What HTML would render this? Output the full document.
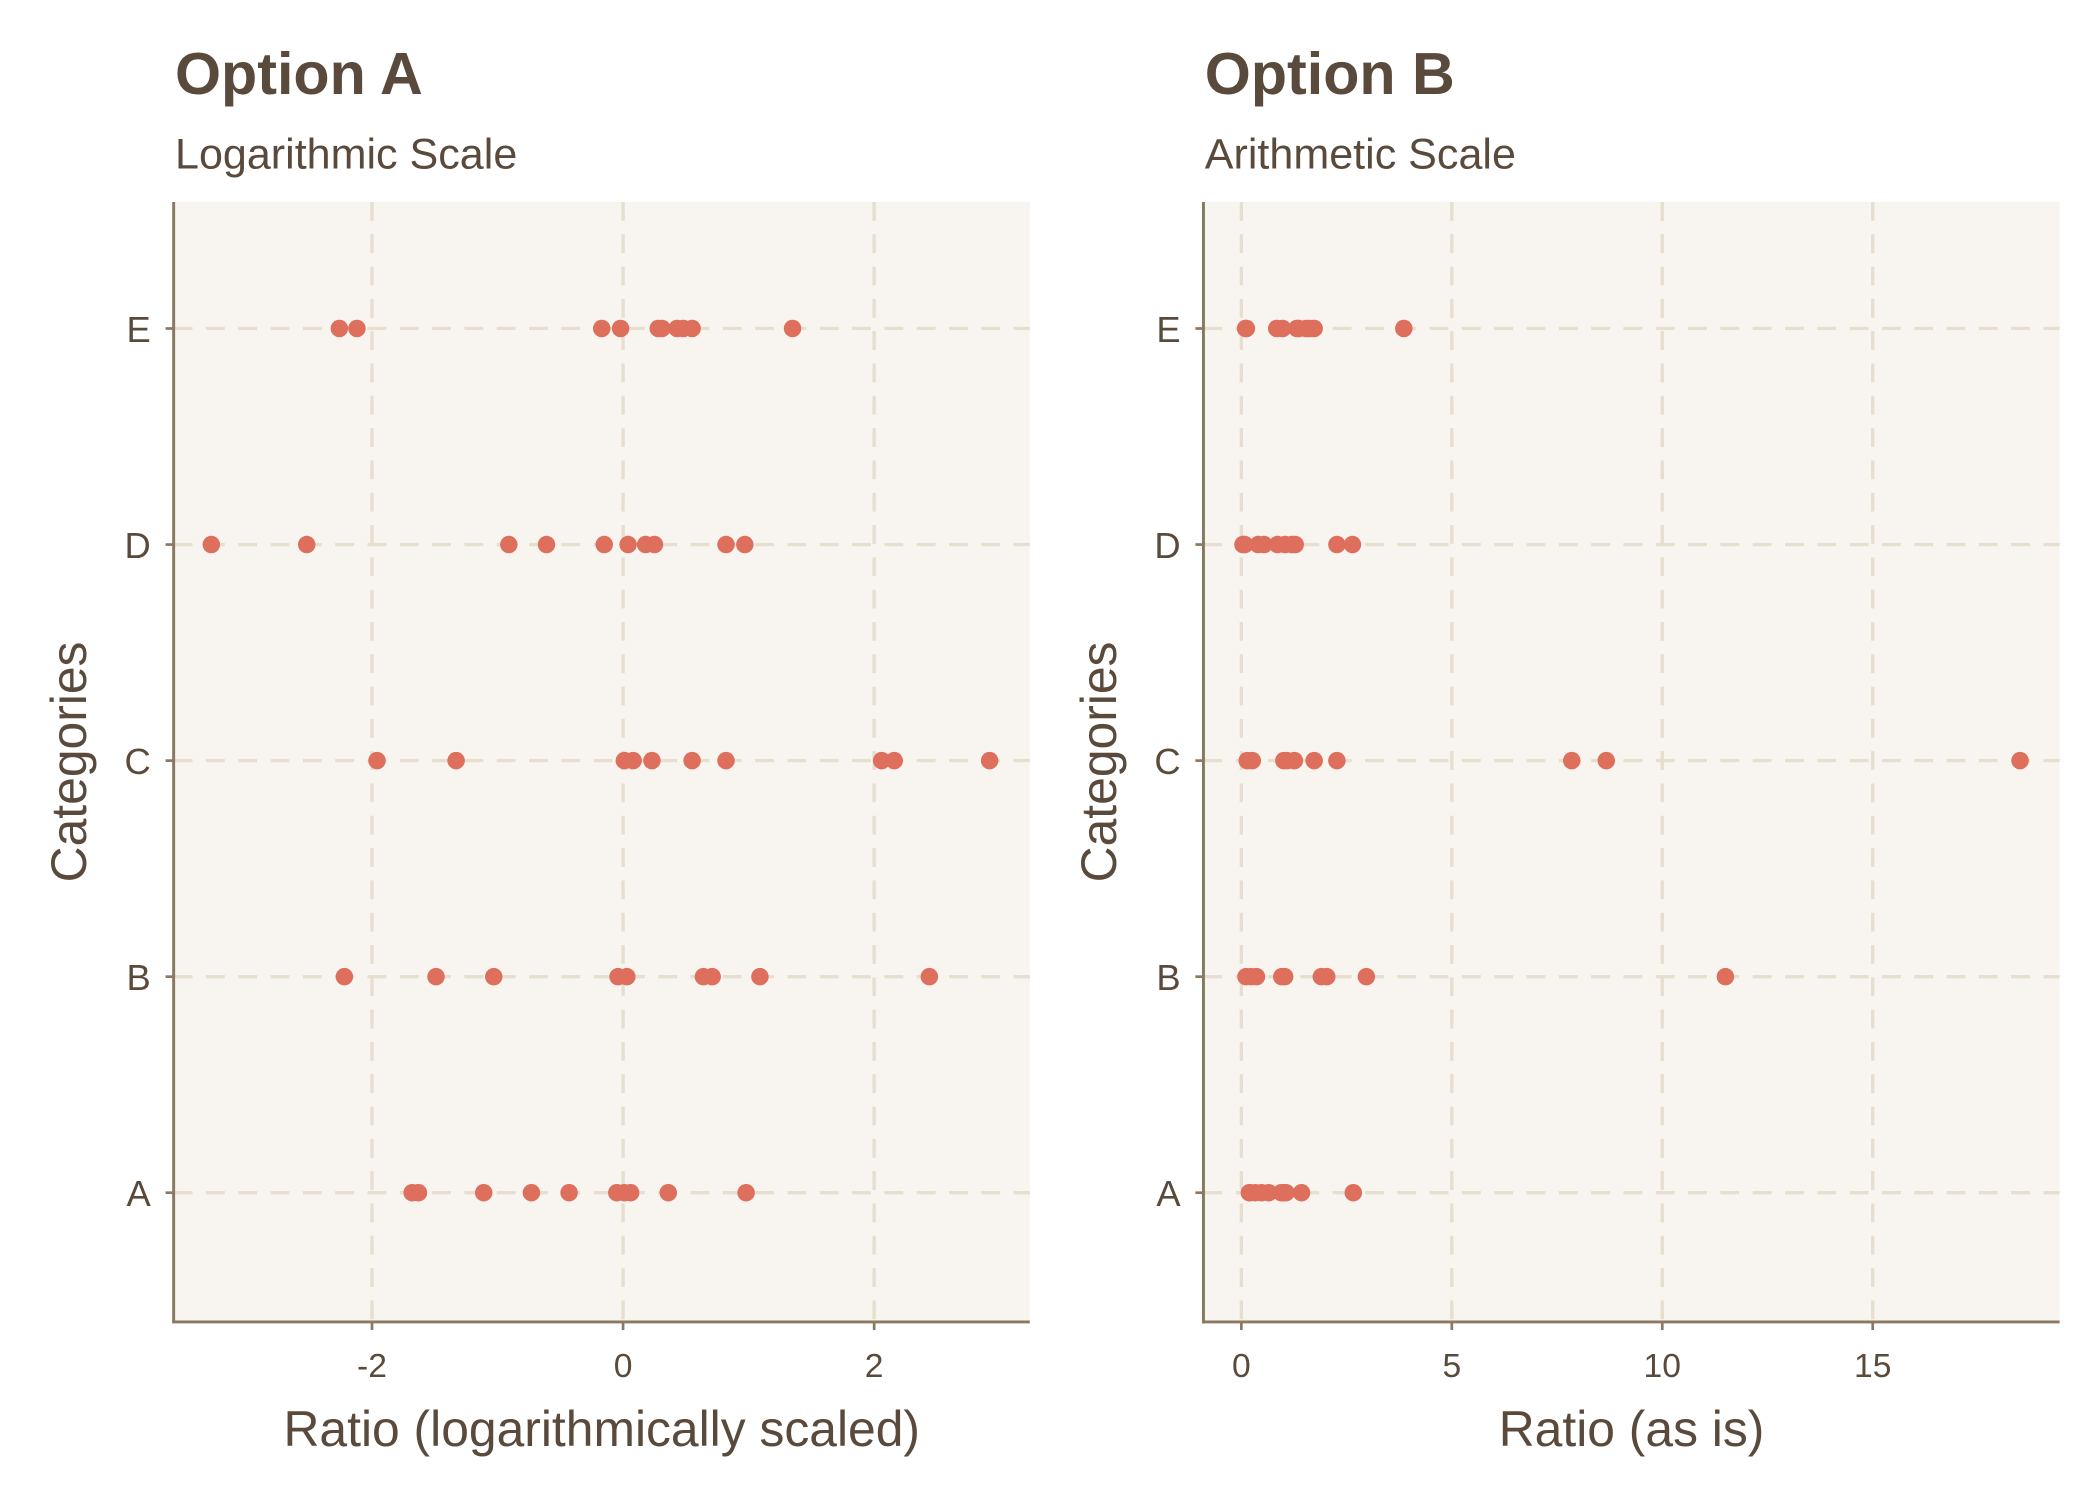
<!DOCTYPE html>
<html><head><meta charset="utf-8"><style>
html,body{margin:0;padding:0;background:#fff;}
svg{display:block;font-family:"Liberation Sans",sans-serif;}
</style></head><body>
<svg id="chart" width="2100" height="1499" viewBox="0 0 1560 1113.5" xmlns="http://www.w3.org/2000/svg">
<rect x="0" y="0" width="1560" height="1113.5" fill="#ffffff"/>
<text x="130" y="70" font-size="44" font-weight="bold" fill="#5a4a3c">Option A</text>
<text x="130" y="125" font-size="32" fill="#5a4a3c">Logarithmic Scale</text>
<text x="895" y="70" font-size="44" font-weight="bold" fill="#5a4a3c">Option B</text>
<text x="895" y="125" font-size="32" fill="#5a4a3c">Arithmetic Scale</text>
<g id="panels"></g>
</svg>
<script>
const categories = ["A","B","C","D","E"];
// Option A: log-scaled ratios
const logA = [-1.68,-1.63,-1.11,-0.73,-0.43,-0.05,0.01,0.06,0.36,0.98];
const logB = [-2.22,-1.49,-1.03,-0.04,0.03,0.64,0.71,1.09,2.44];
const logC = [-1.96,-1.33,0.01,0.08,0.23,0.55,0.82,2.06,2.16,2.92];
const logD = [-3.28,-2.52,-0.91,-0.61,-0.15,0.04,0.18,0.25,0.82,0.97];
const logE = [-2.26,-2.12,-0.17,-0.02,0.28,0.31,0.43,0.48,0.55,1.35];
// Option B: raw ratios
const rawA = [0.19,0.20,0.33,0.48,0.65,0.95,1.01,1.06,1.43,2.66];
const rawB = [0.11,0.23,0.36,0.96,1.03,1.90,2.03,2.97,11.5];
const rawC = [0.14,0.26,1.01,1.08,1.26,1.73,2.27,7.85,8.67,18.5];
const rawD = [0.038,0.080,0.40,0.54,0.86,1.04,1.20,1.28,2.27,2.64];
const rawE = [0.10,0.12,0.84,0.98,1.32,1.36,1.54,1.62,1.73,3.86];
const ticksLog = [-2,0,2];
const tickLabelsLog = ["-2","0","2"];
const ticksRaw = [0,5,10,15];
const tickLabelsRaw = ["0","5","10","15"];

const NS="http://www.w3.org/2000/svg";
const root=document.getElementById('panels');
function mk(tag,attrs,parent){const e=document.createElementNS(NS,tag);for(const k in attrs)e.setAttribute(k,attrs[k]);(parent||root).appendChild(e);return e;}

function panel(cfg){
  const g=mk('g',{});
  
  
  const L=cfg.left,R=cfg.left+636,T=150,B=982;
  const xs=v=>L+(v-cfg.dmin)/(cfg.dmax-cfg.dmin)*(R-L);
  const ys=i=>886-i*160.5;
  const bg=mk('rect',{x:L,y:T,width:R-L,height:B-T,fill:'#f8f5f0'},g);
  
  
  cfg.ticks.forEach((t,i)=>{
    const x=xs(t);
    const gl=mk('line',{x1:x,x2:x,y1:T,y2:B,stroke:'#e6dfcf','stroke-width':2.5,'stroke-dasharray':'14 10'},g);
    
    
    mk('line',{x1:x,x2:x,y1:B,y2:B+6,stroke:'#8b7860','stroke-width':2},g);
    const tl=mk('text',{x:x,y:1023,'font-size':25,'text-anchor':'middle',fill:'#5a4a3c'},g);
    tl.textContent=cfg.labels[i];
    
    
  });
  categories.forEach((c,i)=>{
    const y=ys(i);
    const gl=mk('line',{x1:L,x2:R,y1:y,y2:y,stroke:'#e6dfcf','stroke-width':2.5,'stroke-dasharray':'14 10'},g);
    
    
    mk('line',{x1:L-6,x2:L,y1:y,y2:y,stroke:'#8b7860','stroke-width':2},g);
    const tl=mk('text',{x:L-17,y:y+10,'font-size':27,'text-anchor':'end',fill:'#5a4a3c'},g);
    tl.textContent=c;
    
    
  });
  cfg.series.forEach((arr,i)=>{
    arr.forEach(v=>{
      const d=mk('circle',{cx:xs(v),cy:ys(i),r:6.5,fill:'#dd6f5c'},g);
      
      
    });
  });
  const ya=mk('line',{x1:L,x2:L,y1:T,y2:B+1,stroke:'#8b7860','stroke-width':2.2},g);
  
  
  const xa=mk('line',{x1:L-1,x2:R,y1:B,y2:B,stroke:'#8b7860','stroke-width':2.2},g);
  
  
  const xt=mk('text',{x:(L+R)/2,y:1074,'font-size':37,'text-anchor':'middle',fill:'#5a4a3c'},g);
  xt.textContent=cfg.xtitle;
  
  
  const yt=mk('text',{x:0,y:0,'font-size':37,'text-anchor':'middle',fill:'#5a4a3c',transform:`translate(${L-65},566) rotate(-90)`},g);
  yt.textContent='Categories';
  
  
}
panel({name:'panel-option-a',left:129,dmin:-3.58,dmax:3.24,ticks:ticksLog,labels:tickLabelsLog,series:[logA,logB,logC,logD,logE],xtitle:'Ratio (logarithmically scaled)'});
panel({name:'panel-option-b',left:894,dmin:-0.9,dmax:19.44,ticks:ticksRaw,labels:tickLabelsRaw,series:[rawA,rawB,rawC,rawD,rawE],xtitle:'Ratio (as is)'});
</script>
</body></html>
